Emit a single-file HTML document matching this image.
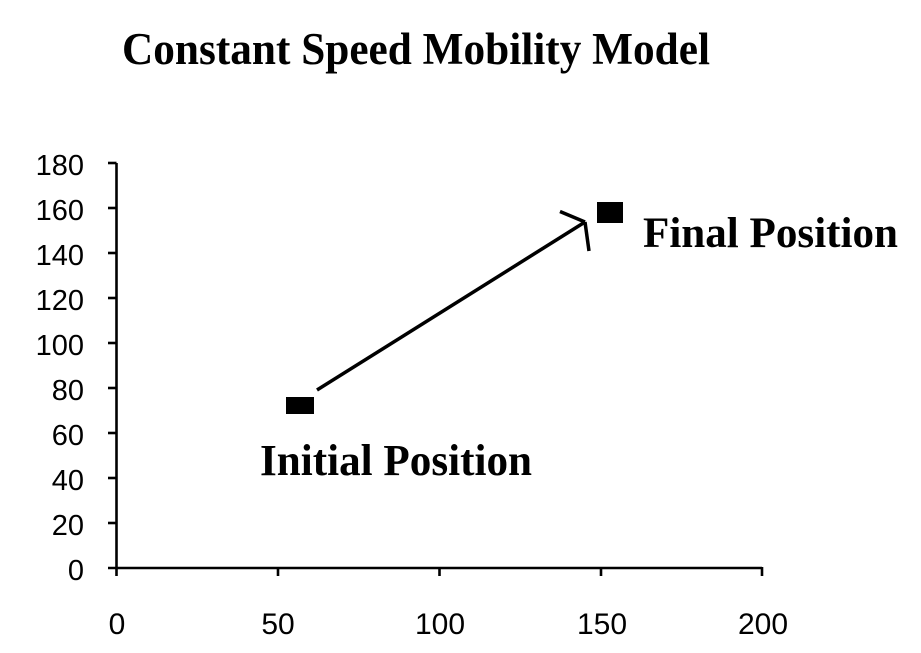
<!DOCTYPE html>
<html>
<head>
<meta charset="utf-8">
<style>
html,body{margin:0;padding:0;background:#fff;}
svg{display:block;}
</style>
</head>
<body>
<svg width="921" height="653" viewBox="0 0 921 653" xmlns="http://www.w3.org/2000/svg">
<rect width="921" height="653" fill="#fff"/>
<text x="122" y="64" font-family="Liberation Serif, serif" font-weight="bold" font-size="45" textLength="588" lengthAdjust="spacingAndGlyphs" fill="#000">Constant Speed Mobility Model</text>

<g stroke="#000" stroke-width="2.6" fill="none">
  <line x1="116.5" y1="163" x2="116.5" y2="576"/>
  <line x1="108" y1="568" x2="762" y2="568"/>
  <line x1="108" y1="163" x2="116.5" y2="163"/>
  <line x1="108" y1="208" x2="116.5" y2="208"/>
  <line x1="108" y1="253" x2="116.5" y2="253"/>
  <line x1="108" y1="298" x2="116.5" y2="298"/>
  <line x1="108" y1="343" x2="116.5" y2="343"/>
  <line x1="108" y1="388" x2="116.5" y2="388"/>
  <line x1="108" y1="433" x2="116.5" y2="433"/>
  <line x1="108" y1="478" x2="116.5" y2="478"/>
  <line x1="108" y1="523" x2="116.5" y2="523"/>
  <line x1="278" y1="568" x2="278" y2="576"/>
  <line x1="439.5" y1="568" x2="439.5" y2="576"/>
  <line x1="601" y1="568" x2="601" y2="576"/>
  <line x1="762" y1="567" x2="762" y2="576"/>
</g>

<g font-family="Liberation Sans, Arial, sans-serif" font-size="29" fill="#000" text-anchor="end">
  <text x="84" y="175">180</text>
  <text x="84" y="220">160</text>
  <text x="84" y="265">140</text>
  <text x="84" y="310">120</text>
  <text x="84" y="355">100</text>
  <text x="84" y="400">80</text>
  <text x="84" y="445">60</text>
  <text x="84" y="490">40</text>
  <text x="84" y="535">20</text>
  <text x="84" y="580">0</text>
</g>
<g font-family="Liberation Sans, Arial, sans-serif" font-size="30" fill="#000" text-anchor="middle">
  <text x="117" y="634">0</text>
  <text x="278" y="634">50</text>
  <text x="440" y="634">100</text>
  <text x="602" y="634">150</text>
  <text x="763" y="634">200</text>
</g>

<rect x="286" y="397" width="28" height="17" fill="#000"/>
<rect x="597" y="202" width="26" height="21" fill="#000"/>

<g stroke="#000" stroke-width="3.5" fill="none" stroke-linecap="butt">
  <line x1="317" y1="390" x2="585" y2="222"/>
  <line x1="585" y1="222" x2="560" y2="211.5"/>
  <line x1="585" y1="222" x2="589" y2="251"/>
</g>

<text x="260" y="475" font-family="Liberation Serif, serif" font-weight="bold" font-size="44" textLength="272" lengthAdjust="spacingAndGlyphs" fill="#000">Initial Position</text>
<text x="643" y="247" font-family="Liberation Serif, serif" font-weight="bold" font-size="43" textLength="255" lengthAdjust="spacingAndGlyphs" fill="#000">Final Position</text>
</svg>
</body>
</html>
